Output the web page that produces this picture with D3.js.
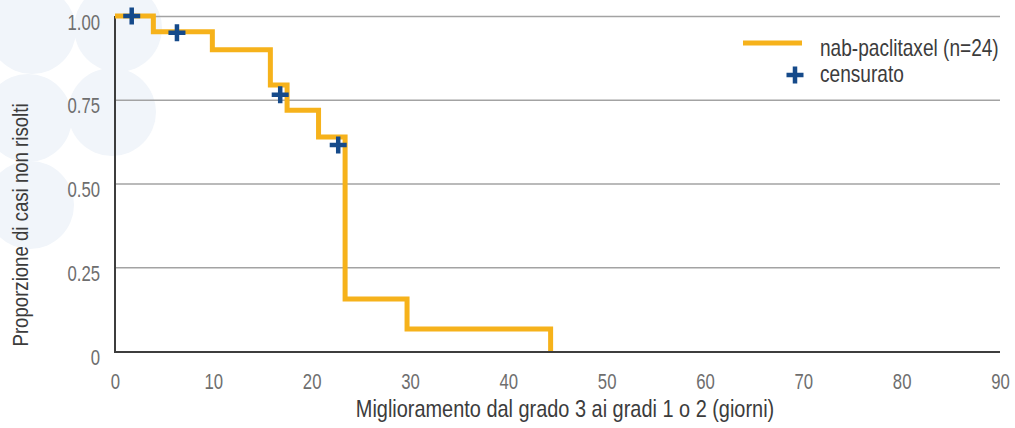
<html>
<head>
  <meta charset="utf-8">
  <title>km</title>
  <script src="https://d3js.org/d3.v7.min.js"></script>
  <style>
    body { margin: 0; background: #fff; }
    text { font-family: "Liberation Sans", Arial, sans-serif; }
  </style>
</head>
<body>
  <div id="chart"></div>
  <script>
    // step curve: time at which each level starts, and the level
    var stepTimes = [0, 3.9, 9.9, 15.8, 17.5, 20.7, 23.4, 29.7, 44.3];
    var stepLevels = [1.0, 0.953, 0.899, 0.794, 0.719, 0.639, 0.155, 0.066, 0];
    // censored patients
    var censorTimes = [1.7, 6.3, 16.8, 22.7];
    var censorLevels = [1.0, 0.95, 0.765, 0.615];
    // axes
    var xTicks = [0, 10, 20, 30, 40, 50, 60, 70, 80, 90];
    var yTicks = [0, 0.25, 0.5, 0.75, 1];
    var yTickLabels = ["0", "0.25", "0.50", "0.75", "1.00"];
    var seriesName = "nab-paclitaxel (n=24)";
    var censorName = "censurato";

    var W = 1015, H = 428;
    var orange = "#f6b21b", blue = "#154a8a";

    var svg = d3.select("#chart").append("svg")
      .attr("width", W).attr("height", H);

    // squeeze text horizontally around its anchor point (condensed look)
    function narrow(k) {
      return function (sel) {
        sel.each(function () {
          var t = d3.select(this);
          var tx = +t.attr("x") || 0, ty = +t.attr("y") || 0;
          var old = t.attr("transform") || "";
          t.attr("x", 0).attr("y", 0)
            .attr("transform", old + " translate(" + tx + "," + ty + ") scale(" + k + ",1)");
        });
      };
    }

    // pale decorative circles top left
    var deco = svg.append("g").attr("fill", "#f1f5fa");
    [[32, 30], [118, 28], [28, 118], [112, 112], [30, 205]].forEach(function (c) {
      deco.append("circle").attr("cx", c[0]).attr("cy", c[1]).attr("r", 44);
    });

    var x = d3.scaleLinear().domain([0, 90]).range([115, 1000]);
    var y = d3.scaleLinear().domain([0, 1]).range([351, 16]);

    // gridlines
    svg.append("g")
      .attr("transform", "translate(115,0)")
      .call(d3.axisLeft(y).tickValues(yTicks.slice(1)).tickSize(-(1000 - 115)).tickFormat(""))
      .call(function (g) {
        g.select(".domain").remove();
        g.selectAll("line").attr("stroke", "#a3a3a3").attr("stroke-width", 1.5);
      });

    // axis lines
    svg.append("line").attr("x1", x(0)).attr("x2", x(0)).attr("y1", y(1)).attr("y2", y(0))
      .attr("stroke", "#3d3d3d").attr("stroke-width", 2);
    svg.append("line").attr("x1", x(0) - 1).attr("x2", x(90)).attr("y1", y(0) + 1).attr("y2", y(0) + 1)
      .attr("stroke", "#3d3d3d").attr("stroke-width", 2);

    // tick labels
    var yAxis = svg.append("g")
      .attr("transform", "translate(115,0)")
      .call(d3.axisLeft(y).tickValues(yTicks).tickSize(0).tickPadding(15)
        .tickFormat(function (d, i) { return yTickLabels[i]; }));
    yAxis.select(".domain").remove();
    yAxis.selectAll("text").attr("font-size", 22).attr("fill", "#6e6e6e")
      .attr("dy", null).attr("y", 13).style("font-family", null).call(narrow(0.76));

    var xAxis = svg.append("g")
      .attr("transform", "translate(0," + y(0) + ")")
      .call(d3.axisBottom(x).tickValues(xTicks).tickSize(0).tickPadding(0));
    xAxis.select(".domain").remove();
    xAxis.selectAll("text").attr("font-size", 22).attr("fill", "#6e6e6e")
      .attr("dy", null).attr("y", 38).style("font-family", null).call(narrow(0.76));

    // axis titles
    svg.append("text").attr("x", 565).attr("y", 417).attr("text-anchor", "middle")
      .attr("font-size", 24).attr("fill", "#3c3c3c")
      .text("Miglioramento dal grado 3 ai gradi 1 o 2 (giorni)").call(narrow(0.83));
    svg.append("g").attr("transform", "translate(28,225) rotate(-90)")
      .append("text").attr("text-anchor", "middle").attr("font-size", 23).attr("fill", "#3c3c3c")
      .text("Proporzione di casi non risolti").call(narrow(0.81));

    // KM curve
    var pts = stepTimes.map(function (t, i) { return [t, stepLevels[i]]; });
    var line = d3.line().x(function (d) { return x(d[0]); }).y(function (d) { return y(d[1]); })
      .curve(d3.curveStepAfter);
    svg.append("path").datum(pts).attr("d", line)
      .attr("fill", "none").attr("stroke", orange).attr("stroke-width", 5)
      .attr("stroke-linejoin", "miter");

    // censor marks
    function plus(g, cx, cy) {
      var s = 8.5;
      g.append("path")
        .attr("d", "M" + (cx - s) + "," + cy + "H" + (cx + s) + "M" + cx + "," + (cy - s) + "V" + (cy + s))
        .attr("stroke", blue).attr("stroke-width", 4.5).attr("fill", "none");
    }
    var marks = svg.append("g");
    censorTimes.forEach(function (t, i) { plus(marks, x(t), y(censorLevels[i])); });

    // legend
    var leg = svg.append("g");
    leg.append("line").attr("x1", 743).attr("x2", 802).attr("y1", 43).attr("y2", 43)
      .attr("stroke", orange).attr("stroke-width", 5);
    leg.append("text").attr("x", 820).attr("y", 56).attr("font-size", 23).attr("fill", "#3c3c3c")
      .text(seriesName).call(narrow(0.83));
    plus(leg, 795, 75);
    leg.append("text").attr("x", 820).attr("y", 82).attr("font-size", 23).attr("fill", "#3c3c3c")
      .text(censorName).call(narrow(0.83));
  </script>
</body>
</html>
